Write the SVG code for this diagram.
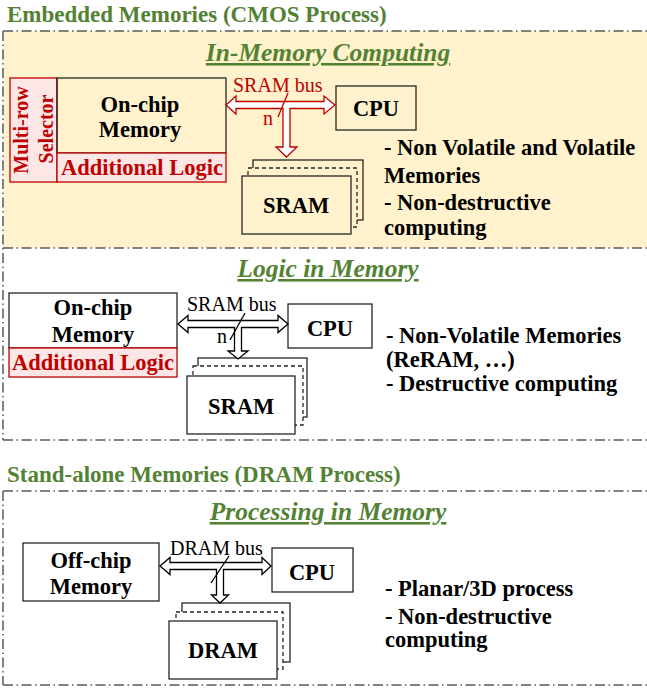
<svg xmlns="http://www.w3.org/2000/svg" width="647" height="690" viewBox="0 0 647 690">
<defs>
<style>
.h{font-family:"Liberation Serif","Times New Roman",serif;font-weight:bold;font-size:23px;fill:#548235;}
.st{font-family:"Liberation Serif","Times New Roman",serif;font-weight:bold;font-style:italic;font-size:25.5px;fill:#548235;text-decoration:underline;text-anchor:middle;}
.bx{font-family:"Liberation Serif","Times New Roman",serif;font-weight:bold;font-size:22.5px;fill:#000;text-anchor:middle;}
.rd{font-family:"Liberation Serif","Times New Roman",serif;font-weight:bold;font-size:22.5px;fill:#C00000;text-anchor:middle;}
.rs{font-family:"Liberation Serif","Times New Roman",serif;font-weight:bold;font-size:20px;fill:#C00000;text-anchor:middle;}
.bus{font-family:"Liberation Serif","Times New Roman",serif;font-size:20px;}
.note{font-family:"Liberation Serif","Times New Roman",serif;font-weight:bold;font-size:22.5px;fill:#000;}
.dd{fill:none;stroke:#595959;stroke-width:1.5;stroke-dasharray:10 3.5 1.5 3.5;}
.box{stroke:#262626;stroke-width:1.3;}
.pk{fill:#FDE6E6;stroke:#C00000;stroke-width:1.3;}
.dsh{stroke:#262626;stroke-width:1.3;stroke-dasharray:4 3;}
</style>
</defs>

<!-- Section frames -->
<g id="embedded-frame">
<text class="h" x="7" y="22">Embedded Memories (CMOS Process)</text>
<rect x="3" y="31" width="660" height="217" fill="#FFF2CC"/>
<path class="dd" d="M3 31 H647 M3 31 V440 M3 248 H647 M3 440 H647"/>
</g>

<!-- In-Memory Computing -->
<g id="imc">
<text class="st" x="328" y="61">In-Memory Computing</text>
</g>
<g id="imc-selector">
<rect class="pk" x="10" y="78" width="47" height="104"/>
<text class="rs" transform="translate(28,130) rotate(-90)">Multi-row</text>
<text class="rs" transform="translate(53,129) rotate(-90)">Selector</text>
</g>
<g id="imc-memory">
<rect class="box" x="57" y="78" width="169" height="75" fill="none"/>
<text class="bx" x="140" y="112">On-chip</text>
<text class="bx" x="140" y="137">Memory</text>
</g>
<g id="imc-logic">
<rect class="pk" x="57" y="153" width="169" height="29"/>
<text class="rd" x="142" y="175">Additional Logic</text>
</g>
<g id="imc-cpu">
<rect class="box" x="336" y="86" width="80" height="44" fill="#FFF2CC"/>
<text class="bx" x="376" y="116">CPU</text>
</g>
<g id="imc-sram">
<rect class="box" x="253" y="160" width="110" height="60" fill="#FFF2CC"/>
<rect class="dsh" x="248" y="168" width="109" height="59" fill="#FFF2CC"/>
<rect class="box" x="242" y="176" width="109" height="58" fill="#FFF2CC"/>
<text class="bx" x="296" y="213">SRAM</text>
</g>
<g id="imc-notes">
<text class="note" x="384" y="155">- Non Volatile and Volatile</text>
<text class="note" x="384" y="183">Memories</text>
<text class="note" x="384" y="210">- Non-destructive</text>
<text class="note" x="384" y="235">computing</text>
</g>

<!-- Logic in Memory -->
<g id="lim">
<text class="st" x="328" y="277">Logic in Memory</text>
</g>
<g id="lim-memory">
<rect class="box" x="9" y="293" width="168" height="55" fill="#fff"/>
<text class="bx" x="93" y="315">On-chip</text>
<text class="bx" x="93" y="342">Memory</text>
</g>
<g id="lim-logic">
<rect class="pk" x="9" y="348" width="168" height="29"/>
<text class="rd" x="93" y="370">Additional Logic</text>
</g>
<g id="lim-cpu">
<rect class="box" x="288" y="304" width="84" height="44" fill="#fff"/>
<text class="bx" x="330" y="336">CPU</text>
</g>
<g id="lim-sram">
<rect class="box" x="198" y="358" width="109" height="59" fill="#fff"/>
<rect class="dsh" x="193" y="366" width="110" height="59" fill="#fff"/>
<rect class="box" x="187" y="376" width="108" height="58" fill="#fff"/>
<text class="bx" x="241" y="414">SRAM</text>
</g>
<g id="lim-notes">
<text class="note" x="386" y="343">- Non-Volatile Memories</text>
<text class="note" x="386" y="367">(ReRAM, …)</text>
<text class="note" x="386" y="391">- Destructive computing</text>
</g>

<!-- Stand-alone -->
<g id="standalone-frame">
<text class="h" x="7" y="482">Stand-alone Memories (DRAM Process)</text>
<path class="dd" d="M3 491 H647 M3 491 V685 M3 685 H647"/>
</g>
<g id="pim">
<text class="st" x="328" y="520">Processing in Memory</text>
</g>
<g id="pim-memory">
<rect class="box" x="23" y="543" width="136" height="58" fill="#fff"/>
<text class="bx" x="91" y="568">Off-chip</text>
<text class="bx" x="91" y="594">Memory</text>
</g>
<g id="pim-cpu">
<rect class="box" x="272" y="548" width="81" height="44" fill="#fff"/>
<text class="bx" x="312" y="580">CPU</text>
</g>
<g id="pim-dram">
<rect class="box" x="182" y="603" width="108" height="59" fill="#fff"/>
<rect class="dsh" x="176" y="612" width="107" height="57" fill="#fff"/>
<rect class="box" x="169" y="621" width="108" height="58" fill="#fff"/>
<text class="bx" x="223" y="658">DRAM</text>
</g>
<g id="pim-notes">
<text class="note" x="385" y="596">- Planar/3D process</text>
<text class="note" x="385" y="624">- Non-destructive</text>
<text class="note" x="385" y="647">computing</text>
</g>

<!-- Connectors -->
<g id="connectors">
<polygon fill="#fff" stroke="#C00000" stroke-width="1.3" points="226,105 236,96 236,101.5 324,101.5 324,96 335,105 324,114 324,108.5 290,108.5 290,147 297,147 286.5,157 276,147 283,147 283,108.5 236,108.5 236,114"/>
<line x1="288" y1="93" x2="278" y2="117" stroke="#C00000" stroke-width="1.3"/>
<text class="bus" x="233" y="92" fill="#C00000">SRAM bus</text>
<text class="bus" x="263" y="125" fill="#C00000">n</text>

<polygon fill="#fff" stroke="#000" stroke-width="1.3" points="178,324 188,315.5 188,320.5 278,320.5 278,315.5 288,324 278,332.5 278,327.5 241.5,327.5 241.5,351 248,351 238,359 228,351 234.5,351 234.5,327.5 188,327.5 188,332.5"/>
<line x1="245" y1="313" x2="230" y2="340" stroke="#000" stroke-width="1.3"/>
<text class="bus" x="187" y="311" fill="#000">SRAM bus</text>
<text class="bus" x="217" y="343" fill="#000">n</text>

<polygon fill="#fff" stroke="#000" stroke-width="1.3" points="160,566 170,557.5 170,562.5 262,562.5 262,557.5 271,566 262,574.5 262,569.5 223.5,569.5 223.5,595 228.5,595 220,603 211.5,595 216.5,595 216.5,569.5 170,569.5 170,574.5"/>
<line x1="229" y1="556" x2="211" y2="583" stroke="#000" stroke-width="1.3"/>
<text class="bus" x="170" y="555" fill="#000">DRAM bus</text>
</g>
</svg>
